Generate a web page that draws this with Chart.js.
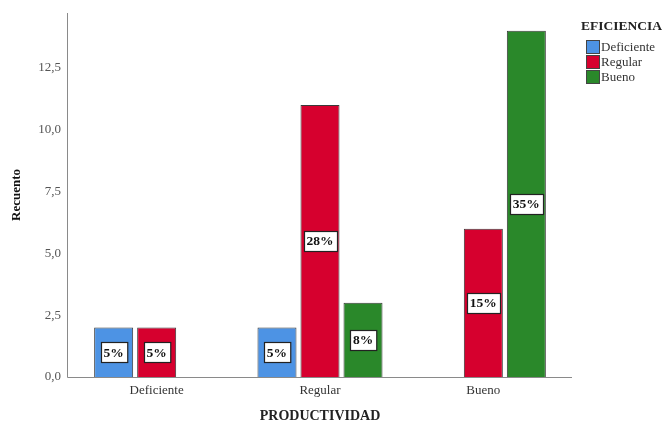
<!DOCTYPE html>
<html>
<head>
<meta charset="utf-8">
<script src="https://cdn.jsdelivr.net/npm/chart.js@4"></script>
<style>
  html, body { margin: 0; padding: 0; background: #fff; }
  #wrap { width: 665px; height: 425px; position: relative; }
</style>
</head>
<body>
<div id="wrap"><canvas id="chart"></canvas></div>
<script>
// productividad categories on x, eficiencia as series
const categories = ["Deficiente", "Regular", "Bueno"];
const deficiente = [2, 2, null];
const regular = [2, 11, 6];
const bueno = [null, 3, 14];
const pctLabels = [
  ["5%", "5%", null],
  ["5%", "28%", "15%"],
  [null, "8%", "35%"]
];
const seriesNames = ["Deficiente", "Regular", "Bueno"];
const colors = ["#4d93e4", "#d6002e", "#2a882a"];

const serif = "'Liberation Serif', 'Times New Roman', serif";

// axis lines in SPSS stick out past the first/last group
const axisLines = {
  id: "axisLines",
  afterDraw(chart) {
    const { ctx, chartArea } = chart;
    ctx.save();
    ctx.strokeStyle = "#8a8a8a";
    ctx.lineWidth = 1;
    ctx.beginPath();
    ctx.moveTo(chartArea.left - 7.5, chartArea.top);
    ctx.lineTo(chartArea.left - 7.5, chartArea.bottom + 0.5);
    ctx.lineTo(chartArea.right + 7, chartArea.bottom + 0.5);
    ctx.stroke();
    ctx.restore();
  }
};

const barLabels = {
  id: "barLabels",
  afterDatasetsDraw(chart) {
    const { ctx } = chart;
    ctx.save();
    ctx.font = "bold 13.5px " + serif;
    ctx.textAlign = "center";
    ctx.textBaseline = "middle";
    chart.data.datasets.forEach((ds, i) => {
      chart.getDatasetMeta(i).data.forEach((bar, j) => {
        const txt = pctLabels[i][j];
        if (txt == null) return;
        const w = ctx.measureText(txt).width + 6;
        const h = 20;
        const cy = (bar.y + bar.base) / 2;
        const x0 = Math.round(bar.x - w / 2) + 0.5;
        const y0 = Math.round(cy - h / 2) + 0.5;
        ctx.fillStyle = "#fff";
        ctx.fillRect(x0, y0, w, h);
        ctx.strokeStyle = "#222";
        ctx.lineWidth = 1.2;
        ctx.strokeRect(x0, y0, w, h);
        ctx.fillStyle = "#111";
        ctx.fillText(txt, bar.x, cy + 1);
      });
    });
    ctx.restore();
  }
};

const sideLegend = {
  id: "sideLegend",
  afterDraw(chart) {
    const { ctx } = chart;
    ctx.save();
    ctx.textBaseline = "middle";
    ctx.fillStyle = "#222";
    ctx.font = "bold 13.5px " + serif;
    ctx.fillText("EFICIENCIA", 581, 27);
    ctx.font = "13px " + serif;
    seriesNames.forEach((name, i) => {
      const y = 40.5 + i * 15;
      ctx.fillStyle = colors[i];
      ctx.fillRect(586.5, y, 13, 13);
      ctx.strokeStyle = "#444";
      ctx.strokeRect(586.5, y, 13, 13);
      ctx.fillStyle = "#333";
      ctx.fillText(name, 601, y + 7);
    });
    ctx.restore();
  }
};

new Chart(document.getElementById("chart"), {
  type: "bar",
  data: {
    labels: categories,
    datasets: [deficiente, regular, bueno].map((vals, i) => ({
      label: seriesNames[i],
      data: vals,
      backgroundColor: colors[i],
      borderColor: "#3a3a3a",
      borderWidth: 1,
      categoryPercentage: 0.79,
      barPercentage: 0.907
    }))
  },
  options: {
    responsive: true,
    maintainAspectRatio: false,
    animation: false,
    layout: { padding: { top: 13, right: 100, bottom: 0, left: 0 } },
    plugins: {
      legend: { display: false },
      tooltip: { enabled: false }
    },
    scales: {
      x: {
        afterFit: (s) => { s.height = 48; },
        grid: { display: false, drawTicks: false },
        border: { display: false },
        ticks: { color: "#333", font: { family: serif, size: 13 }, padding: 6 },
        title: {
          display: true,
          text: "PRODUCTIVIDAD",
          color: "#222",
          font: { family: serif, size: 14, weight: "bold" },
          padding: { top: 0, bottom: 0 }
        }
      },
      y: {
        min: 0,
        max: 14.72,
        afterFit: (s) => { s.width = 75; s.paddingTop = 0; s.paddingBottom = 0; },
        afterBuildTicks: (s) => {
          s.ticks = s.ticks.filter((t) => Math.abs(t.value / 2.5 - Math.round(t.value / 2.5)) < 1e-6);
        },
        grid: { display: false, drawTicks: false },
        border: { display: false },
        ticks: {
          stepSize: 2.5,
          padding: 14,
          color: "#555",
          font: { family: serif, size: 13 },
          callback: (v) => v.toFixed(1).replace(".", ",")
        },
        title: {
          display: true,
          text: "Recuento",
          color: "#111",
          font: { family: serif, size: 13, weight: "bold" },
          padding: { top: 9, bottom: 0 }
        }
      }
    }
  },
  plugins: [axisLines, barLabels, sideLegend]
});
</script>
</body>
</html>
